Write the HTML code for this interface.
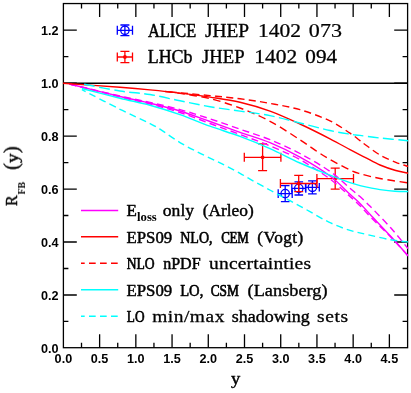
<!DOCTYPE html>
<html><head><meta charset="utf-8"><title>RFB</title>
<style>html,body{margin:0;padding:0;background:#fff}svg{display:block}text{font-family:"Liberation Serif",serif;fill:#000}.t{font-family:"Liberation Sans",sans-serif;font-weight:bold;font-size:12.3px}</style>
</head><body>
<svg width="411" height="393" viewBox="0 0 411 393">
<rect width="411" height="393" fill="#fff"/>
<defs><clipPath id="c"><rect x="62.80" y="3.55" width="345.45" height="344.15"/></clipPath></defs>
<g stroke="#000" stroke-width="1.3" fill="none">
<path d="M81.51,347.70 v-5.00 M81.51,3.55 v5.00"/>
<path d="M99.62,347.70 v-13.40 M99.62,3.55 v13.40"/>
<path d="M117.73,347.70 v-5.00 M117.73,3.55 v5.00"/>
<path d="M135.84,347.70 v-13.40 M135.84,3.55 v13.40"/>
<path d="M153.95,347.70 v-5.00 M153.95,3.55 v5.00"/>
<path d="M172.06,347.70 v-13.40 M172.06,3.55 v13.40"/>
<path d="M190.17,347.70 v-5.00 M190.17,3.55 v5.00"/>
<path d="M208.28,347.70 v-13.40 M208.28,3.55 v13.40"/>
<path d="M226.39,347.70 v-5.00 M226.39,3.55 v5.00"/>
<path d="M244.50,347.70 v-13.40 M244.50,3.55 v13.40"/>
<path d="M262.61,347.70 v-5.00 M262.61,3.55 v5.00"/>
<path d="M280.72,347.70 v-13.40 M280.72,3.55 v13.40"/>
<path d="M298.83,347.70 v-5.00 M298.83,3.55 v5.00"/>
<path d="M316.94,347.70 v-13.40 M316.94,3.55 v13.40"/>
<path d="M335.05,347.70 v-5.00 M335.05,3.55 v5.00"/>
<path d="M353.16,347.70 v-13.40 M353.16,3.55 v13.40"/>
<path d="M371.27,347.70 v-5.00 M371.27,3.55 v5.00"/>
<path d="M389.38,347.70 v-13.40 M389.38,3.55 v13.40"/>
<path d="M63.40,321.46 h5.00 M407.60,321.46 h-5.00"/>
<path d="M63.40,294.98 h13.40 M407.60,294.98 h-13.40"/>
<path d="M63.40,268.50 h5.00 M407.60,268.50 h-5.00"/>
<path d="M63.40,242.01 h13.40 M407.60,242.01 h-13.40"/>
<path d="M63.40,215.52 h5.00 M407.60,215.52 h-5.00"/>
<path d="M63.40,189.04 h13.40 M407.60,189.04 h-13.40"/>
<path d="M63.40,162.55 h5.00 M407.60,162.55 h-5.00"/>
<path d="M63.40,136.07 h13.40 M407.60,136.07 h-13.40"/>
<path d="M63.40,109.58 h5.00 M407.60,109.58 h-5.00"/>
<path d="M63.40,83.10 h13.40 M407.60,83.10 h-13.40"/>
<path d="M63.40,56.61 h5.00 M407.60,56.61 h-5.00"/>
<path d="M63.40,30.13 h13.40 M407.60,30.13 h-13.40"/>
</g>
<rect x="63.40" y="3.55" width="344.20" height="344.15" fill="none" stroke="#000" stroke-width="1.3"/>
<path d="M63.40,83.20 H407.60" stroke="#000" stroke-width="1.35"/>
<g stroke="#00f" stroke-width="1.3" fill="none"><path d="M278.20,193.60 H292.20 M285.20,185.60 V201.60 M278.20,189.30 v8.60 M292.20,189.30 v8.60 M280.90,185.60 h8.60 M280.90,201.60 h8.60"/><circle cx="285.20" cy="193.60" r="4.2"/></g>
<g stroke="#00f" stroke-width="1.3" fill="none"><path d="M291.80,188.40 H305.80 M298.80,181.80 V195.00 M291.80,184.10 v8.60 M305.80,184.10 v8.60 M294.50,181.80 h8.60 M294.50,195.00 h8.60"/><circle cx="298.80" cy="188.40" r="4.2"/></g>
<g stroke="#00f" stroke-width="1.3" fill="none"><path d="M305.50,187.30 H319.30 M312.40,180.80 V193.80 M305.50,183.00 v8.60 M319.30,183.00 v8.60 M308.10,180.80 h8.60 M308.10,193.80 h8.60"/><circle cx="312.40" cy="187.30" r="4.2"/></g>
<g stroke="#f00" stroke-width="1.3" fill="none"><path d="M244.30,157.30 H280.90 M262.60,143.90 V170.70 M244.30,152.80 v9.00 M280.90,152.80 v9.00 M258.10,143.90 h9.00 M258.10,170.70 h9.00"/><circle cx="262.60" cy="157.30" r="1.9" fill="#f00" stroke="none"/></g>
<g stroke="#f00" stroke-width="1.3" fill="none"><path d="M280.40,183.50 H317.00 M298.70,175.40 V191.60 M280.40,179.00 v9.00 M317.00,179.00 v9.00 M294.20,175.40 h9.00 M294.20,191.60 h9.00"/><circle cx="298.70" cy="183.50" r="1.9" fill="#f00" stroke="none"/></g>
<g stroke="#f00" stroke-width="1.3" fill="none"><path d="M316.90,178.60 H353.50 M335.20,168.10 V189.10 M316.90,174.10 v9.00 M353.50,174.10 v9.00 M330.70,168.10 h9.00 M330.70,189.10 h9.00"/><circle cx="335.20" cy="178.60" r="1.9" fill="#f00" stroke="none"/></g>
<g clip-path="url(#c)" fill="none" stroke-width="1.40">
<path d="M69.50,84.00 C77.92,86.08 106.58,93.30 120.00,96.50 C133.42,99.70 140.00,100.78 150.00,103.20 C160.00,105.62 170.00,107.95 180.00,111.00 C190.00,114.05 200.00,117.95 210.00,121.50 C220.00,125.05 230.00,128.77 240.00,132.30 C250.00,135.83 260.00,138.55 270.00,142.70 C280.00,146.85 290.00,151.65 300.00,157.20 C310.00,162.75 321.67,169.82 330.00,176.00 C338.33,182.18 345.00,189.73 350.00,194.30 C355.00,198.87 356.60,200.00 360.00,203.40 C363.40,206.80 365.28,209.22 370.40,214.70 C375.52,220.18 384.40,229.42 390.70,236.30 C397.00,243.18 405.28,252.72 408.20,256.00" stroke="#f0f"/>
<path d="M69.50,84.00 C77.92,86.00 106.58,92.93 120.00,96.00 C133.42,99.07 140.00,100.13 150.00,102.40 C160.00,104.67 170.00,106.87 180.00,109.60 C190.00,112.33 200.00,115.53 210.00,118.80 C220.00,122.07 230.00,125.72 240.00,129.20 C250.00,132.68 260.00,135.65 270.00,139.70 C280.00,143.75 290.00,148.22 300.00,153.50 C310.00,158.78 321.67,165.62 330.00,171.40 C338.33,177.18 345.00,184.00 350.00,188.20 C355.00,192.40 356.60,193.53 360.00,196.60 C363.40,199.67 365.28,201.40 370.40,206.60 C375.52,211.80 384.40,220.77 390.70,227.80 C397.00,234.83 405.28,245.30 408.20,248.80" stroke="#f0f" stroke-dasharray="7 4.2"/>
<path d="M69.50,84.00 C77.92,86.17 106.58,93.67 120.00,97.00 C133.42,100.33 140.00,101.42 150.00,104.00 C160.00,106.58 170.00,109.25 180.00,112.50 C190.00,115.75 200.00,119.83 210.00,123.50 C220.00,127.17 230.00,130.77 240.00,134.50 C250.00,138.23 260.00,141.70 270.00,145.90 C280.00,150.10 290.00,154.18 300.00,159.70 C310.00,165.22 321.67,172.88 330.00,179.00 C338.33,185.12 345.00,191.95 350.00,196.40 C355.00,200.85 356.60,202.30 360.00,205.70 C363.40,209.10 365.28,211.58 370.40,216.80 C375.52,222.02 384.40,230.47 390.70,237.00 C397.00,243.53 405.28,252.83 408.20,256.00" stroke="#f0f" stroke-dasharray="7 4.2"/>
<path d="M62.80,83.20 C72.33,83.88 105.47,86.18 120.00,87.30 C134.53,88.42 140.00,88.93 150.00,89.90 C160.00,90.87 170.00,91.90 180.00,93.10 C190.00,94.30 200.00,95.58 210.00,97.10 C220.00,98.62 230.00,99.87 240.00,102.20 C250.00,104.53 260.00,107.47 270.00,111.10 C280.00,114.73 290.00,119.38 300.00,124.00 C310.00,128.62 321.67,134.53 330.00,138.80 C338.33,143.07 344.17,146.52 350.00,149.60 C355.83,152.68 360.00,154.73 365.00,157.30 C370.00,159.87 374.87,162.80 380.00,165.00 C385.13,167.20 391.10,169.13 395.80,170.50 C400.50,171.87 406.13,172.75 408.20,173.20" stroke="#f00"/>
<path d="M165.00,91.40 C167.50,91.63 172.50,92.10 180.00,92.80 C187.50,93.50 200.00,94.60 210.00,95.60 C220.00,96.60 230.00,97.50 240.00,98.80 C250.00,100.10 260.00,101.58 270.00,103.40 C280.00,105.22 290.00,106.78 300.00,109.70 C310.00,112.62 321.67,116.98 330.00,120.90 C338.33,124.82 345.00,129.92 350.00,133.20 C355.00,136.48 357.45,138.68 360.00,140.60 C362.55,142.52 361.97,142.30 365.30,144.70 C368.63,147.10 374.92,152.05 380.00,155.00 C385.08,157.95 391.10,160.50 395.80,162.40 C400.50,164.30 406.13,165.73 408.20,166.40" stroke="#f00" stroke-dasharray="7.1 4.25" stroke-dashoffset="6.6"/>
<path d="M165.00,91.50 C167.50,91.82 172.50,92.22 180.00,93.40 C187.50,94.58 200.00,96.17 210.00,98.60 C220.00,101.03 230.00,104.22 240.00,108.00 C250.00,111.78 260.00,116.00 270.00,121.30 C280.00,126.60 291.95,134.63 300.00,139.80 C308.05,144.97 313.30,149.02 318.30,152.30 C323.30,155.58 324.72,156.55 330.00,159.50 C335.28,162.45 345.00,167.63 350.00,170.00 C355.00,172.37 355.00,172.28 360.00,173.70 C365.00,175.12 371.97,176.97 380.00,178.50 C388.03,180.03 403.50,182.17 408.20,182.90" stroke="#f00" stroke-dasharray="7.6 4.5" stroke-dashoffset="11.7"/>
<path d="M81.90,88.50 C88.25,90.12 108.65,95.42 120.00,98.20 C131.35,100.98 140.00,102.47 150.00,105.20 C160.00,107.93 170.00,111.10 180.00,114.60 C190.00,118.10 200.00,122.57 210.00,126.20 C220.00,129.83 230.00,132.67 240.00,136.40 C250.00,140.13 260.00,144.17 270.00,148.60 C280.00,153.03 290.00,158.57 300.00,163.00 C310.00,167.43 321.67,171.92 330.00,175.20 C338.33,178.48 345.00,180.97 350.00,182.70 C355.00,184.43 356.60,184.73 360.00,185.60 C363.40,186.47 367.07,187.23 370.40,187.90 C373.73,188.57 375.90,189.05 380.00,189.60 C384.10,190.15 390.30,190.88 395.00,191.20 C399.70,191.52 406.00,191.45 408.20,191.50" stroke="#0ff"/>
<path d="M81.90,83.80 C88.25,85.00 108.65,89.22 120.00,91.00 C131.35,92.78 140.00,92.87 150.00,94.50 C160.00,96.13 170.00,98.77 180.00,100.80 C190.00,102.83 200.00,104.98 210.00,106.70 C220.00,108.42 230.00,109.62 240.00,111.10 C250.00,112.58 260.00,113.62 270.00,115.60 C280.00,117.58 290.00,120.52 300.00,123.00 C310.00,125.48 321.67,128.63 330.00,130.50 C338.33,132.37 345.00,133.38 350.00,134.20 C355.00,135.02 355.00,134.77 360.00,135.40 C365.00,136.03 371.97,137.12 380.00,138.00 C388.03,138.88 403.50,140.25 408.20,140.70" stroke="#0ff" stroke-dasharray="10.8 4.4" stroke-dashoffset="12.8"/>
<path d="M81.90,89.70 C88.25,92.97 108.65,103.65 120.00,109.30 C131.35,114.95 143.33,120.28 150.00,123.60 C156.67,126.92 154.93,126.00 160.00,129.20 C165.07,132.40 173.62,138.73 180.40,142.80 C187.18,146.87 193.92,150.17 200.70,153.60 C207.48,157.03 214.55,160.12 221.10,163.40 C227.65,166.68 235.12,170.65 240.00,173.30 C244.88,175.95 245.28,176.43 250.40,179.30 C255.52,182.17 264.10,186.93 270.70,190.50 C277.30,194.07 283.53,197.22 290.00,200.70 C296.47,204.18 303.02,207.83 309.50,211.40 C315.98,214.97 322.42,219.02 328.90,222.10 C335.38,225.18 341.92,227.80 348.40,229.90 C354.88,232.00 360.75,233.05 367.80,234.70 C374.85,236.35 383.97,238.60 390.70,239.80 C397.43,241.00 405.28,241.55 408.20,241.90" stroke="#0ff" stroke-dasharray="7 4.2" stroke-dashoffset="2.7"/>
</g>
<g stroke="#00f" stroke-width="1.3" fill="none"><path d="M117.30,30.30 H132.50 M124.90,25.00 V35.60 M117.30,25.80 v9.00 M132.50,25.80 v9.00 M120.40,25.00 h9.00 M120.40,35.60 h9.00"/><circle cx="124.90" cy="30.30" r="4.2"/></g>
<g stroke="#f00" stroke-width="1.3" fill="none"><path d="M117.30,57.00 H132.50 M124.90,51.40 V62.60 M117.30,52.50 v9.00 M132.50,52.50 v9.00 M120.40,51.40 h9.00 M120.40,62.60 h9.00"/><circle cx="124.90" cy="57.00" r="1.9" fill="#f00" stroke="none"/></g>
<path d="M81.0,210.40 H118.2" stroke="#f0f" stroke-width="1.50"/>
<path d="M81.0,236.85 H118.2" stroke="#f00" stroke-width="1.50"/>
<path d="M81.0,263.30 H118.2" stroke="#f00" stroke-width="1.50" stroke-dasharray="6.7 4.3" stroke-dashoffset="3"/>
<path d="M81.0,289.75 H118.2" stroke="#0ff" stroke-width="1.50"/>
<path d="M81.0,316.20 H118.2" stroke="#0ff" stroke-width="1.50" stroke-dasharray="6.7 4.3" stroke-dashoffset="3"/>
<g style="opacity:0.999">
<text transform="translate(148.10,36.90) scale(0.9068,1)" font-size="18.00" textLength="52.99" lengthAdjust="spacing" stroke="#000" stroke-width="0.52" stroke-linejoin="round">ALICE</text>
<text transform="translate(204.96,36.90) scale(1.0764,1)" font-size="18.00" textLength="41.01" lengthAdjust="spacing" stroke="#000" stroke-width="0.34" stroke-linejoin="round">JHEP</text>
<text transform="translate(257.94,36.90) scale(1.1566,1)" font-size="18.60" textLength="37.20" lengthAdjust="spacing" stroke="#000" stroke-width="0.25" stroke-linejoin="round">1402</text>
<text transform="translate(308.87,36.90) scale(1.1856,1)" font-size="18.60" textLength="27.90" lengthAdjust="spacing" stroke="#000" stroke-width="0.22" stroke-linejoin="round">073</text>
<text transform="translate(147.70,62.90) scale(0.9949,1)" font-size="18.00" textLength="45.00" lengthAdjust="spacing" stroke="#000" stroke-width="0.43" stroke-linejoin="round">LHCb</text>
<text transform="translate(202.10,62.90) scale(1.0378,1)" font-size="18.00" textLength="41.01" lengthAdjust="spacing" stroke="#000" stroke-width="0.38" stroke-linejoin="round">JHEP</text>
<text transform="translate(254.34,62.90) scale(1.1536,1)" font-size="18.60" textLength="37.20" lengthAdjust="spacing" stroke="#000" stroke-width="0.26" stroke-linejoin="round">1402</text>
<text transform="translate(305.33,62.90) scale(1.1385,1)" font-size="18.60" textLength="27.90" lengthAdjust="spacing" stroke="#000" stroke-width="0.27" stroke-linejoin="round">094</text>
<text transform="translate(126.56,216.20) scale(1.0438,1)" font-size="16.20" textLength="9.90" lengthAdjust="spacing" stroke="#000" stroke-width="0.50" stroke-linejoin="round">E</text>
<text transform="translate(162.84,216.20) scale(1.0842,1)" font-size="16.20" textLength="28.80" lengthAdjust="spacing" stroke="#000" stroke-width="0.41" stroke-linejoin="round">only</text>
<text transform="translate(202.65,216.20) scale(1.0719,1)" font-size="16.20" textLength="47.67" lengthAdjust="spacing" stroke="#000" stroke-width="0.42" stroke-linejoin="round">(Arleo)</text>
<text transform="translate(126.55,242.65) scale(1.0362,1)" font-size="16.20" textLength="44.11" lengthAdjust="spacing" stroke="#000" stroke-width="0.46" stroke-linejoin="round">EPS09</text>
<text transform="translate(180.22,242.65) scale(0.8661,1)" font-size="16.20" textLength="37.34" lengthAdjust="spacing" stroke="#000" stroke-width="0.64" stroke-linejoin="round">NLO,</text>
<text transform="translate(221.23,242.65) scale(0.8000,1)" font-size="16.20" textLength="34.36" lengthAdjust="spacing" stroke="#000" stroke-width="0.72" stroke-linejoin="round">CEM</text>
<text transform="translate(257.36,242.65) scale(1.0647,1)" font-size="16.20" textLength="43.19" lengthAdjust="spacing" stroke="#000" stroke-width="0.43" stroke-linejoin="round">(Vogt)</text>
<text transform="translate(126.74,269.10) scale(0.8404,1)" font-size="16.20" textLength="33.29" lengthAdjust="spacing" stroke="#000" stroke-width="0.67" stroke-linejoin="round">NLO</text>
<text transform="translate(163.19,269.10) scale(0.9899,1)" font-size="16.20" textLength="37.82" lengthAdjust="spacing" stroke="#000" stroke-width="0.51" stroke-linejoin="round">nPDF</text>
<text transform="translate(209.08,269.10) scale(1.2000,1)" font-size="16.20" textLength="84.90" lengthAdjust="spacing" stroke="#000" stroke-width="0.28" stroke-linejoin="round">uncertainties</text>
<text transform="translate(126.55,295.55) scale(1.0362,1)" font-size="16.20" textLength="44.11" lengthAdjust="spacing" stroke="#000" stroke-width="0.46" stroke-linejoin="round">EPS09</text>
<text transform="translate(180.18,295.55) scale(0.9023,1)" font-size="16.20" textLength="25.64" lengthAdjust="spacing" stroke="#000" stroke-width="0.60" stroke-linejoin="round">LO,</text>
<text transform="translate(210.69,295.55) scale(0.8257,1)" font-size="16.20" textLength="34.22" lengthAdjust="spacing" stroke="#000" stroke-width="0.69" stroke-linejoin="round">CSM</text>
<text transform="translate(247.58,295.55) scale(1.1263,1)" font-size="16.20" textLength="71.06" lengthAdjust="spacing" stroke="#000" stroke-width="0.36" stroke-linejoin="round">(Lansberg)</text>
<text transform="translate(126.76,322.00) scale(0.8216,1)" font-size="16.20" textLength="21.59" lengthAdjust="spacing" stroke="#000" stroke-width="0.69" stroke-linejoin="round">LO</text>
<text transform="translate(152.13,322.00) scale(1.2000,1)" font-size="16.20" textLength="60.22" lengthAdjust="spacing" stroke="#000" stroke-width="0.28" stroke-linejoin="round">min/max</text>
<text transform="translate(231.85,322.00) scale(1.1112,1)" font-size="16.20" textLength="70.19" lengthAdjust="spacing" stroke="#000" stroke-width="0.38" stroke-linejoin="round">shadowing</text>
<text transform="translate(317.04,322.00) scale(1.2000,1)" font-size="16.20" textLength="25.93" lengthAdjust="spacing" stroke="#000" stroke-width="0.28" stroke-linejoin="round">sets</text>
<text x="137" y="221.2" font-size="11.6" font-weight="bold" textLength="19.8" lengthAdjust="spacingAndGlyphs">loss</text>
<text class="t" x="63.40" y="363.4" text-anchor="middle" textLength="17.6" lengthAdjust="spacingAndGlyphs">0.0</text>
<text class="t" x="99.62" y="363.4" text-anchor="middle" textLength="17.6" lengthAdjust="spacingAndGlyphs">0.5</text>
<text class="t" x="135.84" y="363.4" text-anchor="middle" textLength="17.6" lengthAdjust="spacingAndGlyphs">1.0</text>
<text class="t" x="172.06" y="363.4" text-anchor="middle" textLength="17.6" lengthAdjust="spacingAndGlyphs">1.5</text>
<text class="t" x="208.28" y="363.4" text-anchor="middle" textLength="17.6" lengthAdjust="spacingAndGlyphs">2.0</text>
<text class="t" x="244.50" y="363.4" text-anchor="middle" textLength="17.6" lengthAdjust="spacingAndGlyphs">2.5</text>
<text class="t" x="280.72" y="363.4" text-anchor="middle" textLength="17.6" lengthAdjust="spacingAndGlyphs">3.0</text>
<text class="t" x="316.94" y="363.4" text-anchor="middle" textLength="17.6" lengthAdjust="spacingAndGlyphs">3.5</text>
<text class="t" x="353.16" y="363.4" text-anchor="middle" textLength="17.6" lengthAdjust="spacingAndGlyphs">4.0</text>
<text class="t" x="389.38" y="363.4" text-anchor="middle" textLength="17.6" lengthAdjust="spacingAndGlyphs">4.5</text>
<text class="t" x="58.6" y="352.60" text-anchor="end" textLength="17.6" lengthAdjust="spacingAndGlyphs">0.0</text>
<text class="t" x="58.6" y="299.70" text-anchor="end" textLength="17.6" lengthAdjust="spacingAndGlyphs">0.2</text>
<text class="t" x="58.6" y="246.80" text-anchor="end" textLength="17.6" lengthAdjust="spacingAndGlyphs">0.4</text>
<text class="t" x="58.6" y="193.90" text-anchor="end" textLength="17.6" lengthAdjust="spacingAndGlyphs">0.6</text>
<text class="t" x="58.6" y="141.00" text-anchor="end" textLength="17.6" lengthAdjust="spacingAndGlyphs">0.8</text>
<text class="t" x="58.6" y="88.10" text-anchor="end" textLength="17.6" lengthAdjust="spacingAndGlyphs">1.0</text>
<text class="t" x="58.6" y="35.20" text-anchor="end" textLength="17.6" lengthAdjust="spacingAndGlyphs">1.2</text>
<text x="230.9" y="384.3" font-size="17" textLength="9.3" lengthAdjust="spacingAndGlyphs" stroke="#000" stroke-width="0.42" stroke-linejoin="round">y</text>
<g transform="translate(17,205.7) rotate(-90)">
<text x="-0.3" y="0" font-size="16.3" textLength="10.6" lengthAdjust="spacingAndGlyphs" stroke="#000" stroke-width="0.42" stroke-linejoin="round">R</text>
<text x="11.2" y="8" font-size="10.8" font-weight="bold" textLength="12.5" lengthAdjust="spacingAndGlyphs">FB</text>
<text x="35.7" y="1.2" font-size="21" stroke="#000" stroke-width="0.3">(</text>
<text x="42.8" y="0.6" font-size="16" textLength="9.5" lengthAdjust="spacingAndGlyphs" stroke="#000" stroke-width="0.42" stroke-linejoin="round">y</text>
<text x="52.4" y="1.2" font-size="21" stroke="#000" stroke-width="0.3">)</text>
</g>
</g>
</svg></body></html>
